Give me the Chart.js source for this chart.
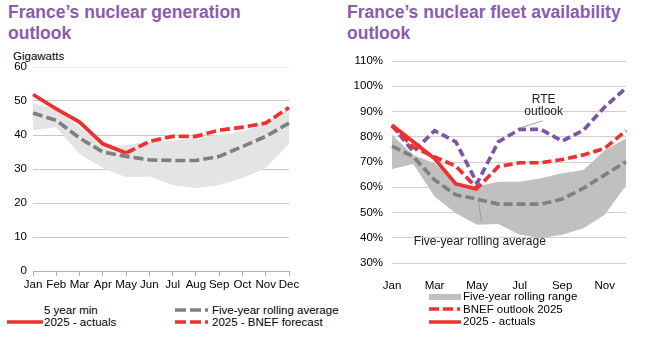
<!DOCTYPE html>
<html>
<head>
<meta charset="utf-8">
<script src="https://cdn.jsdelivr.net/npm/chart.js@4.4.1/dist/chart.umd.min.js"></script>
<style>
  html, body { margin: 0; padding: 0; background: #fff; }
  #page { position: relative; width: 646px; height: 337px; overflow: hidden; font-family: "Liberation Sans", Arial, sans-serif; color: #000; }
  .title { position: absolute; top: 2px; font-weight: bold; font-size: 17.5px; line-height: 21px; color: #8a5cb0; }
  canvas { position: absolute; }
  .lbl { position: absolute; font-size: 11.5px; line-height: 13px; white-space: nowrap; }
  .sw { position: absolute; }
</style>
</head>
<body>
<div id="page">
  <div class="title" style="left:8px;">France’s nuclear generation<br>outlook</div>
  <div class="title" style="left:347px;">France’s nuclear fleet availability<br>outlook</div>
  <div class="lbl" style="left:13px; top:50px;">Gigawatts</div>

  <canvas id="genChart" style="left:0; top:40px;"></canvas>
  <canvas id="availChart" style="left:330px; top:40px;"></canvas>

  <!-- left legend -->
  <div class="lbl" style="left:44px; top:304px;">5 year min</div>
  <svg class="sw" style="left:175px; top:306px;" width="36" height="8"><line x1="0" y1="4" x2="36" y2="4" stroke="#808080" stroke-width="3.5" stroke-dasharray="11,4,11,4,3"/></svg>
  <div class="lbl" style="left:212px; top:304px;">Five-year rolling average</div>
  <svg class="sw" style="left:7px; top:318px;" width="36" height="8"><line x1="0" y1="4" x2="36" y2="4" stroke="#ee3030" stroke-width="3.5"/></svg>
  <div class="lbl" style="left:44px; top:316px;">2025 - actuals</div>
  <svg class="sw" style="left:175px; top:318px;" width="36" height="8"><line x1="0" y1="4" x2="36" y2="4" stroke="#ee3030" stroke-width="3.5" stroke-dasharray="11,4,11,4,3"/></svg>
  <div class="lbl" style="left:212px; top:316px;">2025 - BNEF forecast</div>

  <!-- right legend -->
  <svg class="sw" style="left:429px; top:293px;" width="32" height="8"><line x1="0" y1="4" x2="32" y2="4" stroke="#c0c0c0" stroke-width="6"/></svg>
  <div class="lbl" style="left:463px; top:290px;">Five-year rolling range</div>
  <svg class="sw" style="left:429px; top:305px;" width="32" height="8"><line x1="0" y1="4" x2="32" y2="4" stroke="#ee3030" stroke-width="3.5" stroke-dasharray="10,4,10,4,3"/></svg>
  <div class="lbl" style="left:463px; top:303px;">BNEF outlook 2025</div>
  <svg class="sw" style="left:429px; top:318px;" width="32" height="8"><line x1="0" y1="4" x2="32" y2="4" stroke="#ee3030" stroke-width="3.5"/></svg>
  <div class="lbl" style="left:463px; top:315px;">2025 - actuals</div>
</div>

<script>
// --- data ---
const months = ['Jan', 'Feb', 'Mar', 'Apr', 'May', 'Jun', 'Jul', 'Aug', 'Sep', 'Oct', 'Nov', 'Dec'];

// left: generation, GW
const genBandMax = [49.4, 47.4, 42.5, 36.8, 37.0, 38.1, 38.4, 39.1, 40.0, 41.0, 44.0, 47.9];
const genBandMin = [41.4, 42.3, 34.4, 30.3, 27.6, 27.8, 25.3, 24.4, 25.3, 27.3, 30.3, 37.4];
const genAvg = [46.5, 44.3, 39.1, 35.0, 33.7, 32.7, 32.5, 32.5, 33.7, 36.6, 39.6, 43.5];
const genActual = [51.9, 47.7, 43.8, 37.4, 34.7, null, null, null, null, null, null, null];
const genForecast = [null, null, null, null, 34.7, 38.1, 39.6, 39.6, 41.4, 42.3, 43.5, 48.1];
const genTicks = [0, 10, 20, 30, 40, 50, 60];

// right: fleet availability, %
const availMax = [80.7, 72.8, 69.5, 62.2, 60.3, 62.2, 62.2, 63.6, 65.5, 66.8, 74.7, 79.3];
const availMin = [67.2, 69.2, 56.3, 49.7, 45.1, 45.4, 41.2, 39.9, 41.2, 43.8, 49.1, 60.7];
const availAvg = [76.3, 72.1, 62.9, 57.0, 55.3, 53.3, 53.3, 53.3, 55.3, 59.6, 64.9, 70.1];
const availRte = [84.6, 74.1, 82.4, 78.0, 61.6, 78.0, 82.9, 82.9, 78.3, 82.6, 91.8, 99.3];
const availBnef = [84.2, 76.0, 72.0, 68.4, 59.6, 68.2, 69.7, 69.7, 71.0, 72.8, 75.4, 82.4];
const availActual = [84.6, 78.0, 71.4, 61.3, 59.2, null, null, null, null, null, null, null];
const availTicks = [30, 40, 50, 60, 70, 80, 90, 100, 110];

const RED = '#ee3030';
const GREY = '#808080';
const PURPLE = '#7a55a8';
const FAMILY = '"Liberation Sans", Arial, sans-serif';

function lineSet(data, color, dash, order) {
    return {
        data: data,
        borderColor: color,
        borderWidth: 3.7,
        borderDash: dash,
        borderCapStyle: 'butt',
        pointRadius: 0,
        tension: 0,
        fill: false,
        spanGaps: false,
        order: order
    };
}

// band = upper edge filled down to the lower edge
function bandSets(max, min, color) {
    return [
        { data: max, borderWidth: 0, pointRadius: 0, tension: 0, backgroundColor: color, fill: '+1', order: 10 },
        { data: min, borderWidth: 0, pointRadius: 0, tension: 0, fill: false, order: 11 }
    ];
}

// --- left chart ---
const genCanvas = document.getElementById('genChart');
genCanvas.width = 330; genCanvas.height = 260;
new Chart(genCanvas, {
    type: 'line',
    data: {
        labels: months,
        datasets: [
            lineSet(genActual, RED, [], 1),
            lineSet(genForecast, RED, [10, 4], 2),
            lineSet(genAvg, GREY, [10, 4], 3),
            ...bandSets(genBandMax, genBandMin, '#e4e4e4')
        ]
    },
    options: {
        responsive: false,
        animation: false,
        layout: { padding: { top: 27, right: 41, bottom: 0, left: 0 } },
        plugins: { legend: { display: false }, tooltip: { enabled: false } },
        scales: {
            x: {
                offset: false,
                afterFit: s => { s.height = 29; },
                border: { display: true, color: '#b0b0b0' },
                grid: { drawOnChartArea: false, drawTicks: true, tickLength: 5, color: '#b0b0b0' },
                ticks: { color: '#000', font: { family: FAMILY, size: 11.5 }, padding: 2, maxRotation: 0, autoSkip: false }
            },
            y: {
                min: 0, max: 60,
                afterFit: s => { s.width = 33; },
                afterBuildTicks: s => { s.ticks = genTicks.map(v => ({ value: v })); },
                border: { display: false },
                grid: { drawTicks: false, color: ctx => ctx.tick && ctx.tick.value === 60 ? '#eeeeee' : '#c8c8c8' },
                ticks: { color: '#000', font: { family: FAMILY, size: 11.5 }, padding: 6 }
            }
        }
    }
});

// annotation text + leader lines on the right chart
const availNotes = {
    id: 'availNotes',
    afterDatasetsDraw(chart) {
        const { ctx, scales: { x, y } } = chart;
        ctx.save();
        ctx.strokeStyle = '#909090';
        ctx.lineWidth = 0.8;
        ctx.beginPath();
        ctx.moveTo(x.getPixelForValue(7.09), y.getPixelForValue(86.3));
        ctx.lineTo(x.getPixelForValue(6.0), y.getPixelForValue(83.5));
        ctx.moveTo(x.getPixelForValue(4.04), y.getPixelForValue(55.1));
        ctx.lineTo(x.getPixelForValue(4.22), y.getPixelForValue(46.4));
        ctx.stroke();
        ctx.fillStyle = '#222';
        ctx.font = '12px ' + FAMILY;
        ctx.textAlign = 'center';
        ctx.textBaseline = 'middle';
        ctx.fillText('RTE', x.getPixelForValue(7.13), y.getPixelForValue(94.6));
        ctx.fillText('outlook', x.getPixelForValue(7.13), y.getPixelForValue(89.8));
        ctx.fillText('Five-year rolling average', x.getPixelForValue(4.13), y.getPixelForValue(38.5));
        ctx.restore();
    }
};

// --- right chart ---
const availCanvas = document.getElementById('availChart');
availCanvas.width = 316; availCanvas.height = 260;
new Chart(availCanvas, {
    type: 'line',
    data: {
        labels: months,
        datasets: [
            lineSet(availActual, RED, [], 1),
            lineSet(availBnef, RED, [9, 4], 2),
            lineSet(availRte, PURPLE, [8, 4], 3),
            lineSet(availAvg, GREY, [9, 4], 4),
            ...bandSets(availMax, availMin, '#c0c0c0')
        ]
    },
    options: {
        responsive: false,
        animation: false,
        layout: { padding: { top: 21, right: 20, bottom: 0, left: 0 } },
        plugins: { legend: { display: false }, tooltip: { enabled: false } },
        scales: {
            x: {
                offset: false,
                afterFit: s => { s.height = 37; },
                border: { display: false },
                grid: { display: false },
                ticks: {
                    color: '#000', font: { family: FAMILY, size: 11.5 }, padding: 8, maxRotation: 0, autoSkip: false,
                    callback: (v, i) => i % 2 === 0 ? months[i] : ''
                }
            },
            y: {
                min: 30, max: 110,
                afterFit: s => { s.width = 62; },
                afterBuildTicks: s => { s.ticks = availTicks.map(v => ({ value: v })); },
                border: { display: false },
                grid: { drawTicks: false, color: '#d0d0d0' },
                ticks: { color: '#000', font: { family: FAMILY, size: 11.5 }, padding: 9, callback: v => v + '%' }
            }
        }
    },
    plugins: [availNotes]
});
</script>
</body>
</html>
